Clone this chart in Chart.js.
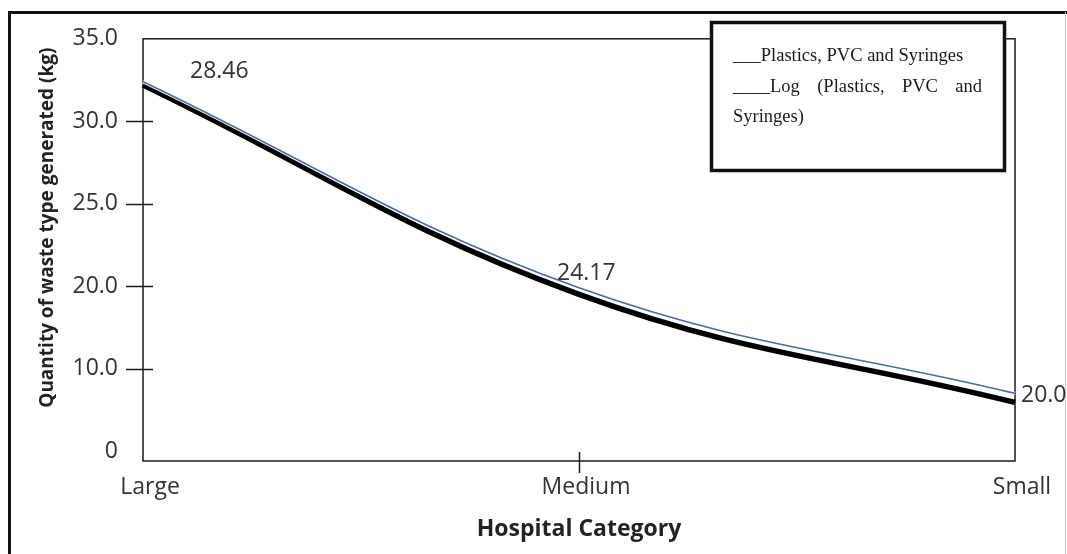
<!DOCTYPE html>
<html>
<head>
<meta charset="utf-8">
<script src="https://cdn.jsdelivr.net/npm/chart.js@4.4.1/dist/chart.umd.min.js"></script>
<style>
  html, body { margin: 0; padding: 0; background: #fff; }
  #wrap { width: 1067px; height: 554px; position: relative; }
</style>
</head>
<body>
<div id="wrap"><canvas id="c" width="1067" height="554"></canvas></div>
<script>
// ---- data ----
const categories = ['Large', 'Medium', 'Small'];
const plasticsKg = [32.2, 19.0, 5.9];        // black thick line
const logPlasticsKg = [32.4, 19.8, 7.0];     // thin blue line
const yTickValues = [0, 10, 20, 25, 30, 35]; // tick values as printed (unevenly spaced on the axis)
const yTickLabels = ['0', '10.0', '20.0', '25.0', '30.0', '35.0'];
const pointLabels = ['28.46', '24.17', '20.0'];
const seriesNames = ['Plastics, PVC and Syringes', 'Log (Plastics, PVC and Syringes)'];
const legendPrefixes = ['___', '____'];

// The printed axis places its labels at equal spacing; map kg values onto that spacing.
function toAxisPos(v) {
  for (let i = 0; i < yTickValues.length - 1; i++) {
    const a = yTickValues[i], b = yTickValues[i + 1];
    if (v <= b || i === yTickValues.length - 2) return i + (v - a) / (b - a);
  }
  return 0;
}

const TICK_FONT = { family: "'Open Sans', sans-serif", size: 23 };
const TEXT_COLOR = '#333';

const framePlugin = {
  id: 'frame',
  beforeDraw(chart) {
    const ctx = chart.ctx;
    ctx.save();
    ctx.fillStyle = '#fff';
    ctx.fillRect(0, 0, chart.width, chart.height);
    ctx.strokeStyle = '#111';
    ctx.lineWidth = 3;
    ctx.beginPath();
    ctx.moveTo(9.5, chart.height);
    ctx.lineTo(9.5, 12.5);
    ctx.lineTo(chart.width, 12.5);
    ctx.stroke();
    ctx.strokeStyle = '#c8c8c8';
    ctx.lineWidth = 1;
    ctx.beginPath();
    ctx.moveTo(1065.5, 12);
    ctx.lineTo(1065.5, chart.height);
    ctx.stroke();
    ctx.restore();
  },
  beforeDatasetsDraw(chart) {
    const { ctx, chartArea: a, scales } = chart;
    ctx.save();
    ctx.strokeStyle = '#1a1a1a';
    ctx.lineWidth = 1.5;
    ctx.strokeRect(a.left, a.top, a.right - a.left, a.bottom - a.top);
    // y tick marks (crossing the axis), not at the ends
    const y = scales.y;
    y.ticks.forEach((t, i) => {
      if (i === 0 || i === y.ticks.length - 1) return;
      const py = Math.round(y.getPixelForValue(t.value)) + 0.5;
      ctx.beginPath();
      ctx.moveTo(a.left - 17, py);
      ctx.lineTo(a.left + 10, py);
      ctx.stroke();
    });
    // x tick marks at interior categories
    const x = scales.x;
    for (let i = 1; i < categories.length - 1; i++) {
      const px = Math.round(x.getPixelForValue(i)) + 0.5;
      ctx.beginPath();
      ctx.moveTo(px, a.bottom - 9);
      ctx.lineTo(px, a.bottom + 12);
      ctx.stroke();
    }
    ctx.restore();
  }
};

// thin white halo under the blue line
const haloPlugin = {
  id: 'halo',
  beforeDatasetDraw(chart, args, opts) {
    if (args.index !== opts.datasetIndex) return;
    const el = args.meta.dataset;
    const o = el.options;
    const saved = { c: o.borderColor, w: o.borderWidth };
    o.borderColor = '#ffffff';
    o.borderWidth = opts.width;
    el.draw(chart.ctx, chart.chartArea);
    o.borderColor = saved.c;
    o.borderWidth = saved.w;
  }
};

const pointLabelPlugin = {
  id: 'pointLabels',
  afterDatasetsDraw(chart, args, opts) {
    const ctx = chart.ctx;
    const meta = chart.getDatasetMeta(opts.datasetIndex);
    ctx.save();
    ctx.font = `${TICK_FONT.size}px ${TICK_FONT.family}`;
    ctx.fillStyle = TEXT_COLOR;
    ctx.textBaseline = 'middle';
    ctx.textAlign = 'left';
    meta.data.forEach((pt, i) => {
      const off = opts.offsets[i];
      ctx.fillText(opts.labels[i], pt.x + off[0], pt.y + off[1]);
    });
    ctx.restore();
  }
};

const boxLegendPlugin = {
  id: 'boxLegend',
  afterDraw(chart, args, opts) {
    const ctx = chart.ctx;
    const b = opts.box;
    ctx.save();
    ctx.fillStyle = '#fff';
    ctx.fillRect(b.x, b.y, b.w, b.h);
    ctx.strokeStyle = '#111';
    ctx.lineWidth = 3.5;
    ctx.strokeRect(b.x + 1.5, b.y + 1.5, b.w - 3, b.h - 3);
    ctx.font = opts.font;
    ctx.fillStyle = '#1a1a1a';
    ctx.textBaseline = 'alphabetic';
    const left = opts.textLeft, right = opts.textRight, maxW = right - left;
    let baseY = opts.firstBaseline;
    chart.data.datasets.forEach((ds, di) => {
      const words = (legendPrefixes[di] + ds.label).split(' ');
      const lines = [];
      let cur = [];
      words.forEach(w => {
        const test = cur.concat([w]).join(' ');
        if (cur.length && ctx.measureText(test).width > maxW) { lines.push(cur); cur = [w]; }
        else cur.push(w);
      });
      if (cur.length) lines.push(cur);
      lines.forEach((lw, li) => {
        const last = li === lines.length - 1;
        if (last || lw.length === 1) {
          ctx.fillText(lw.join(' '), left, baseY);
        } else {
          const wordsW = lw.reduce((s, w) => s + ctx.measureText(w).width, 0);
          const gap = (maxW - wordsW) / (lw.length - 1);
          let x = left;
          lw.forEach(w => { ctx.fillText(w, x, baseY); x += ctx.measureText(w).width + gap; });
        }
        baseY += opts.lineHeight;
      });
    });
    ctx.restore();
  }
};

new Chart(document.getElementById('c'), {
  type: 'line',
  data: {
    labels: categories,
    datasets: [
      {
        label: seriesNames[0],
        data: plasticsKg.map(toAxisPos),
        borderColor: '#000',
        borderWidth: 5.5,
        pointRadius: 0,
        tension: 0.4,
        fill: false,
        order: 2
      },
      {
        label: seriesNames[1],
        data: logPlasticsKg.map(toAxisPos),
        borderColor: '#4a6d9c',
        borderWidth: 1.6,
        pointRadius: 0,
        tension: 0.4,
        fill: false,
        order: 1
      }
    ]
  },
  options: {
    responsive: false,
    animation: false,
    devicePixelRatio: 1,
    layout: { padding: { left: 0, top: 37, right: 52, bottom: 0 } },
    plugins: {
      legend: { display: false },
      tooltip: { enabled: false },
      halo: { datasetIndex: 1, width: 3.6 },
      pointLabels: {
        datasetIndex: 1,
        labels: pointLabels,
        offsets: [[47, -10], [-22, -14], [6, 2]]
      },
      boxLegend: {
        box: { x: 710, y: 21, w: 296, h: 151 },
        font: "18.5px 'Liberation Serif', serif",
        textLeft: 733,
        textRight: 982,
        firstBaseline: 61,
        lineHeight: 30.5
      }
    },
    scales: {
      x: {
        type: 'category',
        offset: false,
        grid: { display: false, drawTicks: false },
        border: { display: false },
        ticks: { color: TEXT_COLOR, font: TICK_FONT, padding: 13, maxRotation: 0, autoSkip: false, labelOffset: 7 },
        title: {
          display: true,
          text: 'Hospital Category',
          color: '#222',
          font: { family: "'Open Sans', sans-serif", size: 23, weight: 'bold' },
          padding: { top: 0, bottom: 11 }
        },
        afterFit(scale) { scale.height = 93; }
      },
      y: {
        type: 'linear',
        min: -0.12,
        max: 5,
        grid: { display: false, drawTicks: false },
        border: { display: false },
        afterBuildTicks(scale) { scale.ticks = yTickValues.map((v, i) => ({ value: i })); },
        ticks: {
          color: TEXT_COLOR,
          font: TICK_FONT,
          padding: 25,
          callback: (v, i) => yTickLabels[i]
        },
        title: {
          display: true,
          text: '         Quantity of waste type generated (kg)',
          color: '#222',
          font: { family: "'Open Sans', sans-serif", size: 19, weight: 'bold' },
          padding: { top: 36, bottom: 0 }
        },
        afterFit(scale) { scale.width = 143; }
      }
    }
  },
  plugins: [framePlugin, haloPlugin, pointLabelPlugin, boxLegendPlugin]
});
</script>
</body>
</html>
